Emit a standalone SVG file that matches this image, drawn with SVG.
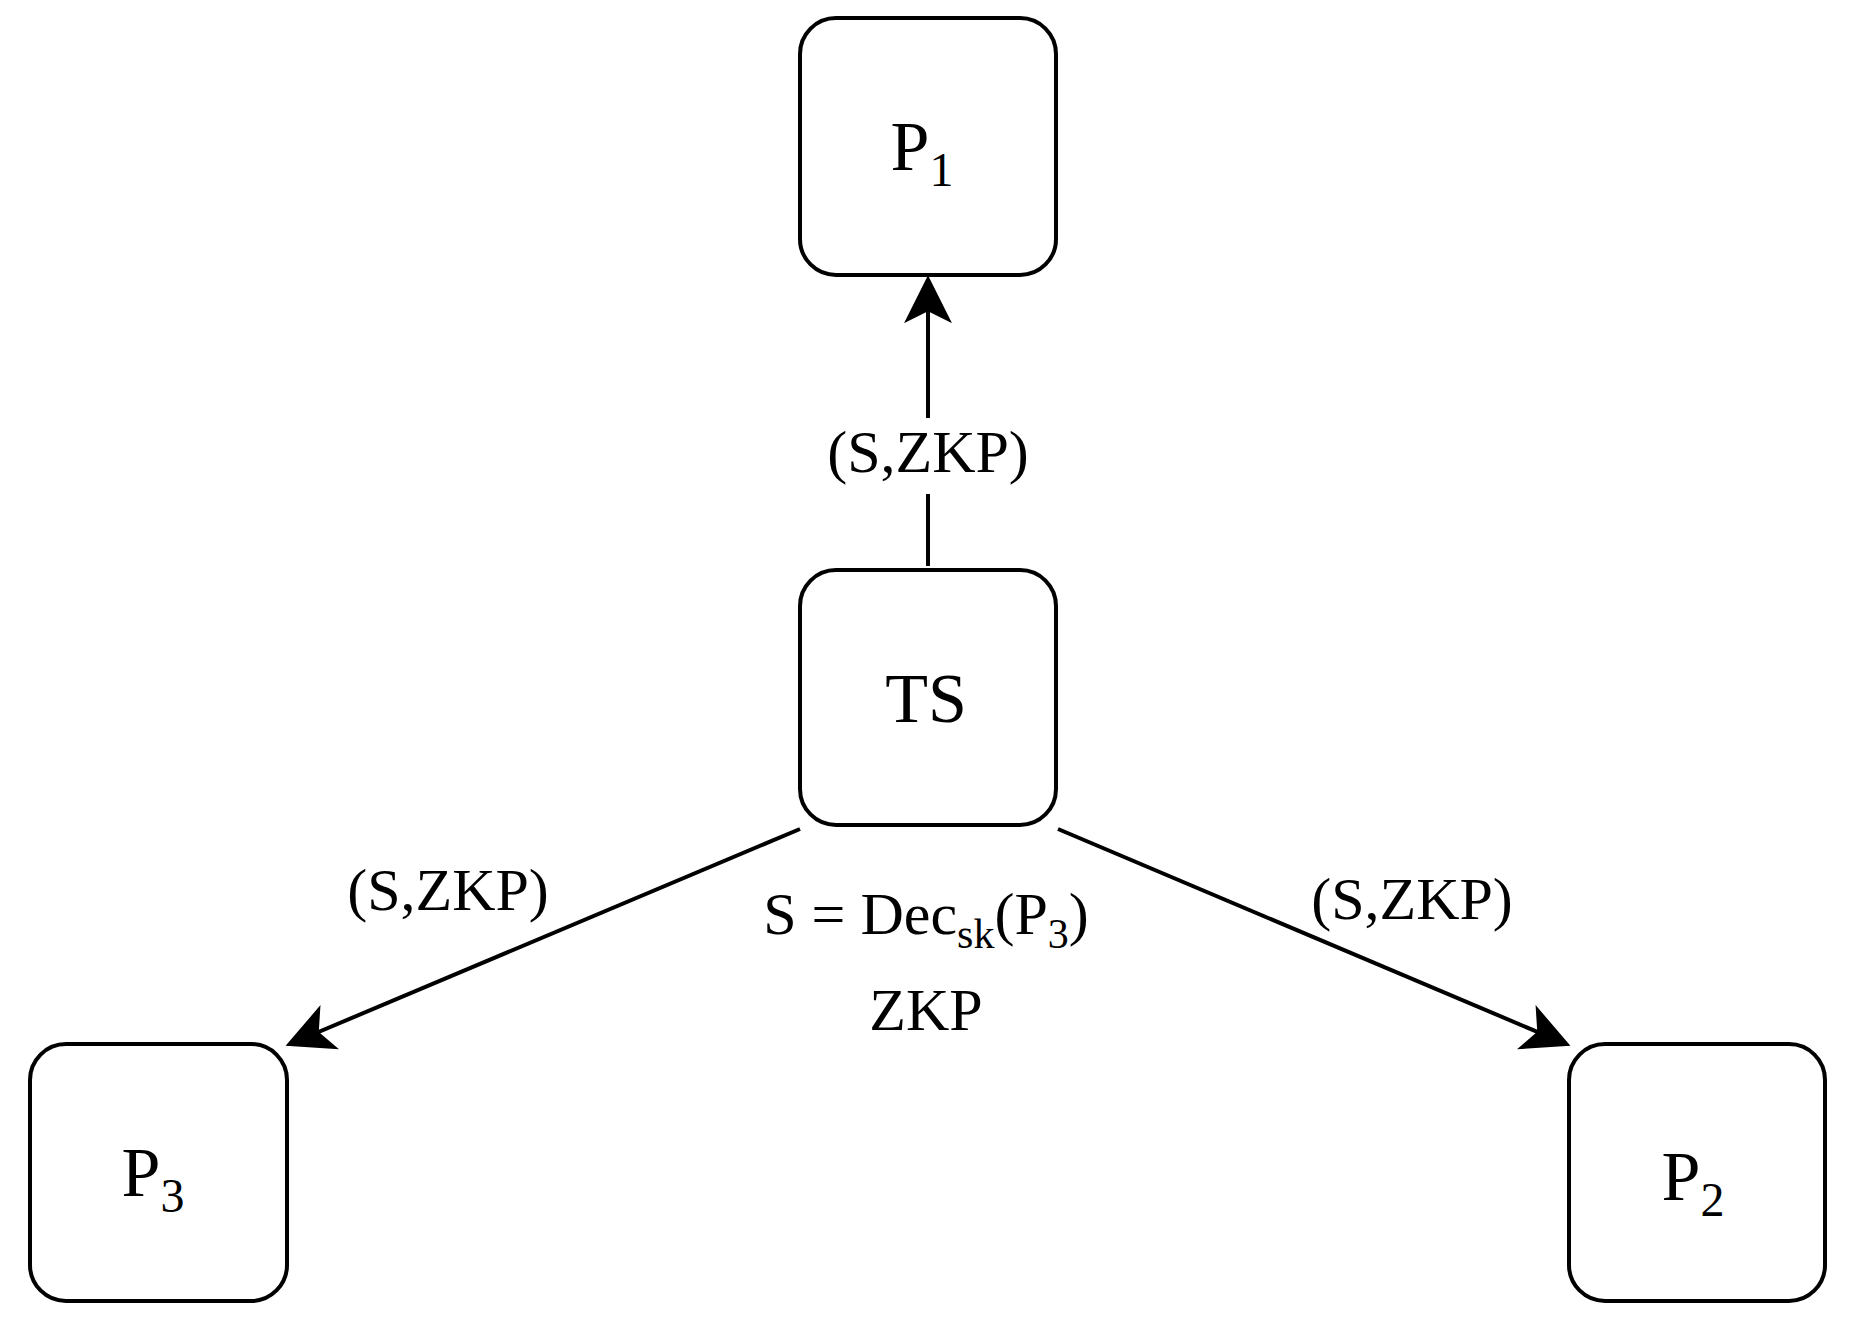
<svg xmlns="http://www.w3.org/2000/svg" width="1849" height="1319" viewBox="0 0 1849 1319">
<style>
.n{fill:#fff;stroke:#000;stroke-width:4}
.t{font-family:"Liberation Serif",serif;fill:#000;text-anchor:middle}
.big{font-size:70px}
.lab{font-size:60px}
.c{stroke:#000;stroke-width:4;fill:none}
</style>
<defs><marker id="a" viewBox="0 0 10 10" refX="9" refY="5" markerWidth="14" markerHeight="14" markerUnits="userSpaceOnUse" orient="auto"><path d="M0,0 L10,5 L0,10 L2.5,5 z" fill="#000"/></marker>
<marker id="ah" viewBox="0 0 10 10" refX="9" refY="5" markerWidth="12" markerHeight="12" orient="auto"><path d="M0,0 L10,5 L0,10 L2.5,5 z" fill="#000"/></marker></defs>
<rect width="1849" height="1319" fill="#fff"/>
<g id="connectors">
<line class="c" x1="928" y1="566" x2="928" y2="280" marker-end="url(#ah)"/>
<line class="c" x1="800" y1="829" x2="290" y2="1044" marker-end="url(#ah)"/>
<line class="c" x1="1058" y1="829" x2="1566" y2="1044" marker-end="url(#ah)"/>
<rect x="870" y="418" width="116" height="76" fill="#fff"/>
<text class="t lab" x="928" y="472">(S,ZKP)</text>
<text class="t lab" x="448" y="910">(S,ZKP)</text>
<text class="t lab" x="1412" y="919">(S,ZKP)</text>
<text class="t lab" x="926" y="934">S = Dec<tspan font-size="42" dy="14">sk</tspan><tspan dy="-14">(P</tspan><tspan font-size="42" dy="14">3</tspan><tspan dy="-14">)</tspan></text>
<text class="t lab" x="926" y="1030">ZKP</text>
</g>
<g id="P1"><rect class="n" x="800" y="18" width="256" height="257" rx="36"/><text class="t big" x="922" y="170">P<tspan font-size="48" dy="16">1</tspan></text></g>
<g id="TS"><rect class="n" x="800" y="570" width="256" height="255" rx="36"/><text class="t big" x="926" y="722">TS</text></g>
<g id="P3"><rect class="n" x="30" y="1044" width="257" height="257" rx="36"/><text class="t big" x="153" y="1196">P<tspan font-size="48" dy="16">3</tspan></text></g>
<g id="P2"><rect class="n" x="1569" y="1044" width="256" height="257" rx="36"/><text class="t big" x="1693" y="1200">P<tspan font-size="48" dy="16">2</tspan></text></g>
</svg>
